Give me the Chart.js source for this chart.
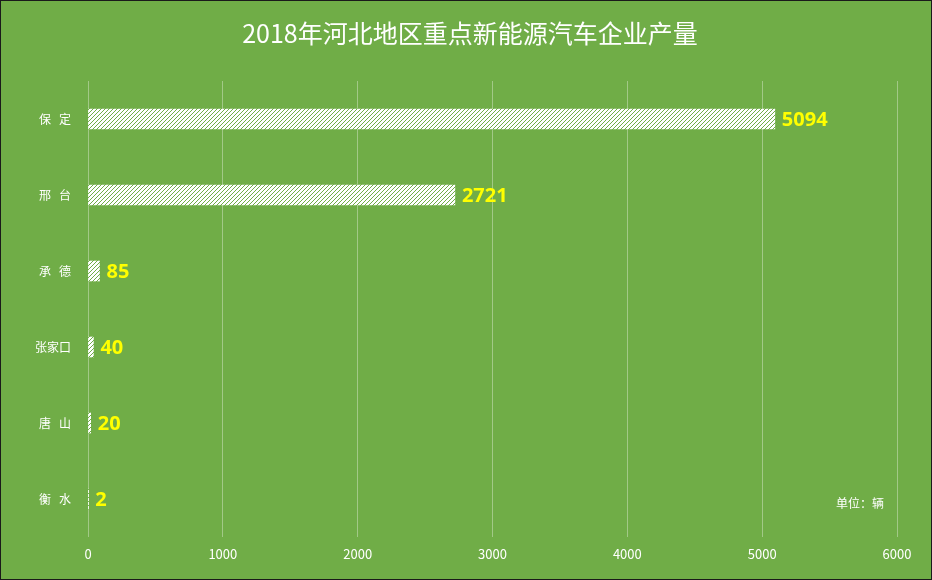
<!DOCTYPE html>
<html>
<head>
<meta charset="utf-8">
<script src="https://cdn.jsdelivr.net/npm/chart.js@4/dist/chart.umd.min.js"></script>
<style>
  html, body { margin: 0; padding: 0; background: #70ad47; }
  #wrap { width: 932px; height: 580px; box-sizing: border-box; border: 1px solid #1a1a1a; position: relative; }
  canvas { display: block; }
</style>
</head>
<body>
<div id="wrap"><canvas id="c" width="930" height="578"></canvas></div>
<script>
const cities = ['保   定', '邢   台', '承   德', '张家口', '唐   山', '衡   水'];
const output = [5094, 2721, 85, 40, 20, 2];
const xTicks = [0, 1000, 2000, 3000, 4000, 5000, 6000];
const chartTitle = '2018年河北地区重点新能源汽车企业产量';

const BG = '#70ad47';
const FONT = '"Noto Sans CJK SC", "Open Sans", sans-serif';

// white hatch with green diagonal strokes
function makeHatch() {
  const p = document.createElement('canvas');
  p.width = 4; p.height = 4;
  const g = p.getContext('2d');
  g.fillStyle = '#ffffff';
  g.fillRect(0, 0, 4, 4);
  g.fillStyle = BG;
  for (let i = 0; i < 4; i++) g.fillRect(i, 3 - i, 1, 1);
  return g.createPattern(p, 'repeat');
}

const valueLabels = {
  id: 'valueLabels',
  afterDatasetsDraw(chart) {
    const ctx = chart.ctx;
    const meta = chart.getDatasetMeta(0);
    ctx.save();
    ctx.fillStyle = '#ffff00';
    ctx.font = 'bold 20px "Open Sans", sans-serif';
    ctx.textBaseline = 'middle';
    ctx.textAlign = 'left';
    meta.data.forEach((bar, i) => {
      ctx.fillText(String(output[i]), bar.x + 7, bar.y + 1);
    });
    ctx.restore();
  }
};

// title centred on the whole canvas, plus the unit note
const extraText = {
  id: 'extraText',
  afterDraw(chart) {
    const ctx = chart.ctx;
    ctx.save();
    ctx.fillStyle = '#ffffff';
    ctx.textBaseline = 'middle';
    ctx.textAlign = 'center';
    ctx.font = '25px ' + FONT;
    ctx.fillText(chartTitle, chart.width / 2 + 4, 32);
    ctx.textAlign = 'left';
    ctx.font = '12px ' + FONT;
    ctx.fillText('单位：辆', 835, 502);
    ctx.restore();
  }
};

new Chart(document.getElementById('c'), {
  type: 'bar',
  data: {
    labels: cities,
    datasets: [{
      data: output,
      backgroundColor: makeHatch(),
      borderWidth: 0,
      barThickness: 20
    }]
  },
  options: {
    indexAxis: 'y',
    responsive: false,
    animation: false,
    layout: { padding: { left: 0, right: 34, top: 80, bottom: 0 } },
    plugins: {
      legend: { display: false },
      tooltip: { enabled: false },
      title: { display: false }
    },
    scales: {
      x: {
        min: 0, max: 6000,
        afterBuildTicks: s => { s.ticks = xTicks.map(v => ({ value: v })); },
        grid: { color: 'rgba(255,255,255,0.35)', drawTicks: false },
        border: { display: false },
        ticks: {
          color: '#ffffff', font: { family: FONT, size: 13 }, padding: 9,
          callback: v => String(v)
        },
        afterFit: s => { s.height = 42; }
      },
      y: {
        grid: { display: false },
        border: { display: false },
        ticks: { color: '#ffffff', font: { family: FONT, size: 12 }, padding: 9 },
        afterFit: s => { s.width = 87; }
      }
    }
  },
  plugins: [valueLabels, extraText]
});
</script>
</body>
</html>
